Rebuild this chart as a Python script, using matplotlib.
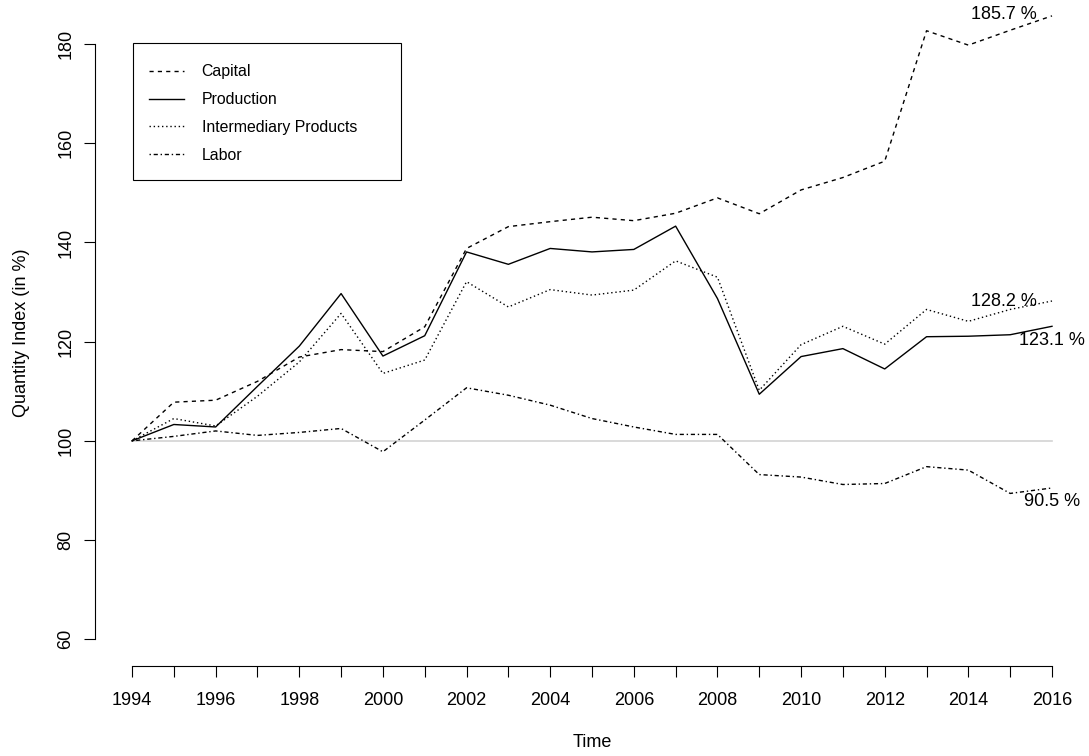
import numpy as np
import matplotlib
matplotlib.use("Agg")
import matplotlib.pyplot as plt
from matplotlib.patches import Rectangle

plt.rcParams['font.family'] = ['Liberation Sans', 'DejaVu Sans']

years = np.arange(1994, 2017)

capital = [100, 107.8, 108.2, 112.0, 116.9, 118.4, 118.0, 123.0, 138.8, 143.2,
           144.2, 145.1, 144.4, 145.9, 149.0, 145.8, 150.6, 153.1, 156.4, 182.7,
           179.8, 182.8, 185.7]
production = [100, 103.3, 102.8, 111.0, 119.1, 129.7, 117.1, 121.2, 138.1, 135.6,
              138.8, 138.1, 138.6, 143.3, 128.7, 109.4, 117.0, 118.6, 114.5, 121.0,
              121.1, 121.4, 123.1]
intermediary = [100, 104.5, 103.0, 109.0, 115.9, 125.7, 113.6, 116.3, 132.1, 127.0,
                130.5, 129.4, 130.4, 136.3, 133.0, 110.2, 119.4, 123.1, 119.5, 126.5,
                124.1, 126.5, 128.2]
labor = [100, 100.9, 102.0, 101.1, 101.7, 102.5, 97.8, 104.2, 110.7, 109.2,
         107.2, 104.5, 102.8, 101.3, 101.3, 93.2, 92.7, 91.2, 91.4, 94.8,
         94.1, 89.4, 90.5]

series_names = ["Capital", "Production", "Intermediary Products", "Labor"]
series_values = [capital, production, intermediary, labor]
styles = [(0, (3, 3)), '-', (0, (1, 2)), (0, (1, 2, 3, 2))]

W, H = 1089, 756
fig = plt.figure(figsize=(W / 100, H / 100), dpi=100)
ax = fig.add_axes([95 / W, 90 / H, 994 / W, 666 / H])

# reference line at 100
ax.plot([years[0], years[-1]], [100, 100], color='#d3d3d3', lw=1.2, zorder=1)

handles = []
for name, vals, ls in zip(series_names, series_values, styles):
    h, = ax.plot(years, vals, color='black', lw=1.0, linestyle=ls, label=name)
    handles.append(h)

ax.set_xlim(1993.115, 2016.885)
ax.set_ylim(54.6, 188.9)

for s in ['top', 'right']:
    ax.spines[s].set_visible(False)
ax.spines['left'].set_bounds(60, 180)
ax.spines['bottom'].set_bounds(1994, 2016)

ax.set_xticks(np.arange(1994, 2017, 2))
ax.set_xticks(np.arange(1995, 2016, 2), minor=True)
ax.set_yticks(np.arange(60, 181, 20))
ax.tick_params(axis='both', which='both', length=7.7, width=0.8, labelsize=13)
ax.tick_params(axis='x', pad=11)
ax.tick_params(axis='y', pad=7)
for lbl in ax.get_yticklabels():
    lbl.set_rotation(90)
    lbl.set_va('center')

ax.set_xlabel("Time", fontsize=13, labelpad=18)
ax.set_ylabel("Quantity Index (in %)", fontsize=13, labelpad=20)

# end labels
ax.annotate(f"{capital[-1]:.1f} %", (years[-1], capital[-1]), xytext=(-11, 1),
            textcoords='offset points', ha='right', va='center', fontsize=13,
            annotation_clip=False)
ax.annotate(f"{intermediary[-1]:.1f} %", (years[-1], intermediary[-1]), xytext=(-11, 0),
            textcoords='offset points', ha='right', va='center', fontsize=13,
            annotation_clip=False)
ax.annotate(f"{production[-1]:.1f} %", (years[-1], production[-1]), xytext=(0, -10),
            textcoords='offset points', ha='center', va='center', fontsize=13,
            annotation_clip=False)
ax.annotate(f"{labor[-1]:.1f} %", (years[-1], labor[-1]), xytext=(0, -10),
            textcoords='offset points', ha='center', va='center', fontsize=13,
            annotation_clip=False)

# legend (entries without frame) + R-style box drawn separately
leg = ax.legend(handles=handles, loc='center left',
                bbox_to_anchor=(149 / W, 1 - 113.5 / H), bbox_transform=fig.transFigure,
                frameon=False, fontsize=11.4,
                handlelength=2.2, handletextpad=1.12, labelspacing=0.81,
                borderpad=0, borderaxespad=0)
fig.patches.append(Rectangle((133 / W, 1 - 180 / H), 268 / W, 137 / H,
                             transform=fig.transFigure, fill=False,
                             edgecolor='black', lw=0.8))

fig.savefig("out.png", dpi=100)
